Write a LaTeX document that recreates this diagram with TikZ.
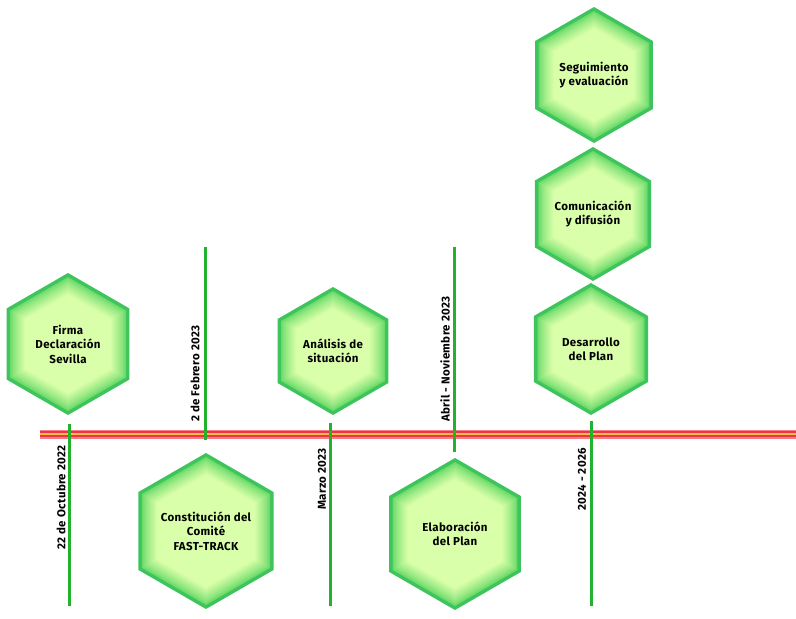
\documentclass[tikz,border=0pt]{standalone}
\usepackage{fontspec}
\setmainfont{Fira Sans}[BoldFeatures={LetterSpace=3}]
\definecolor{hexborder}{RGB}{62,196,92}
\definecolor{hexglow}{RGB}{105,218,105}
\definecolor{hexinner}{RGB}{218,255,170}
\definecolor{tickgreen}{RGB}{34,178,46}
\definecolor{barpink}{RGB}{250,125,140}
\definecolor{barred}{RGB}{240,52,72}
\definecolor{baryellow}{RGB}{250,190,70}
\tikzset{
  hextext/.style={align=center, font=\bfseries\fontsize{11.5}{14.5}\selectfont, text=black, inner sep=0pt},
  datelabel/.style={rotate=90, font=\bfseries\fontsize{11.5}{14}\selectfont, inner sep=0pt},
  tickline/.style={draw=tickgreen, line width=3pt},
  barouter/.style={draw=barpink, line width=9pt},
  barmid/.style={draw=barred, line width=6pt},
  barcore/.style={draw=baryellow, line width=1.2pt},
}
\newcommand\hexshape[1]{(90:#1) -- (30:#1) -- (-30:#1) -- (-90:#1) -- (-150:#1) -- (150:#1) -- cycle}
\newcommand\hexcell[5]{%
  \begin{scope}[shift={(#2,#3)}]
    \fill[hexborder] \hexshape{#4};
    \foreach \k in {0,...,16}{%
      \pgfmathsetmacro\rr{#4-4-1.1*\k}%
      \pgfmathsetmacro\pp{100*(\k/16)^0.8}%
      \fill[hexinner!\pp!hexglow] \hexshape{\rr};
    }
  \end{scope}
  \node[hextext] (#1) at (#2,#3) {#5};
}
\begin{document}
\begin{tikzpicture}[x=1pt,y=-1pt]
\fill[white] (0,0) rectangle (796,619);
\useasboundingbox (0,0) rectangle (796,619);
% timeline bar
\coordinate (barL) at (40,434);
\coordinate (barR) at (796,434);
\draw[barouter] (barL) -- (barR);
\draw[barmid] (barL) -- (barR);
\draw[barcore] (barL) -- (barR);
% ticks
\coordinate (t1a) at (69,424);  \coordinate (t1b) at (69,606);
\coordinate (t2a) at (205,247); \coordinate (t2b) at (205,440);
\coordinate (t3a) at (330,423); \coordinate (t3b) at (330,606);
\coordinate (t4a) at (454,247); \coordinate (t4b) at (454,452);
\coordinate (t5a) at (591,421); \coordinate (t5b) at (591,606);
\draw[tickline] (t1a) -- (t1b);
\draw[tickline] (t2a) -- (t2b);
\draw[tickline] (t3a) -- (t3b);
\draw[tickline] (t4a) -- (t4b);
\draw[tickline] (t5a) -- (t5b);
% date labels
\node[datelabel, anchor=east] (d1) at (61,445) {22 de Octubre 2022};
\node[datelabel, anchor=west] (d2) at (195,422) {2 de Febrero 2023};
\node[datelabel, anchor=east] (d3) at (322,448) {Marzo 2023};
\node[datelabel, anchor=west] (d4) at (445,422) {Abril - Noviembre 2023};
\node[datelabel, anchor=east] (d5) at (582,448) {2024 - 2026};
% hexagons
\hexcell{h1}{68}{344}{71}{Firma\\Declaración\\Sevilla}
\hexcell{h2}{206}{531}{78}{Constitución del\\Comité\\FAST-TRACK}
\hexcell{h3}{333}{351}{64}{Análisis de\\situación}
\hexcell{h4}{455}{534}{76}{Elaboración\\del Plan}
\hexcell{h5}{591}{349}{66}{Desarrollo\\del Plan}
\hexcell{h6}{593}{214}{67}{Comunicación\\y difusión}
\hexcell{h7}{594}{75}{68}{Seguimiento\\y evaluación}
\end{tikzpicture}
\end{document}
